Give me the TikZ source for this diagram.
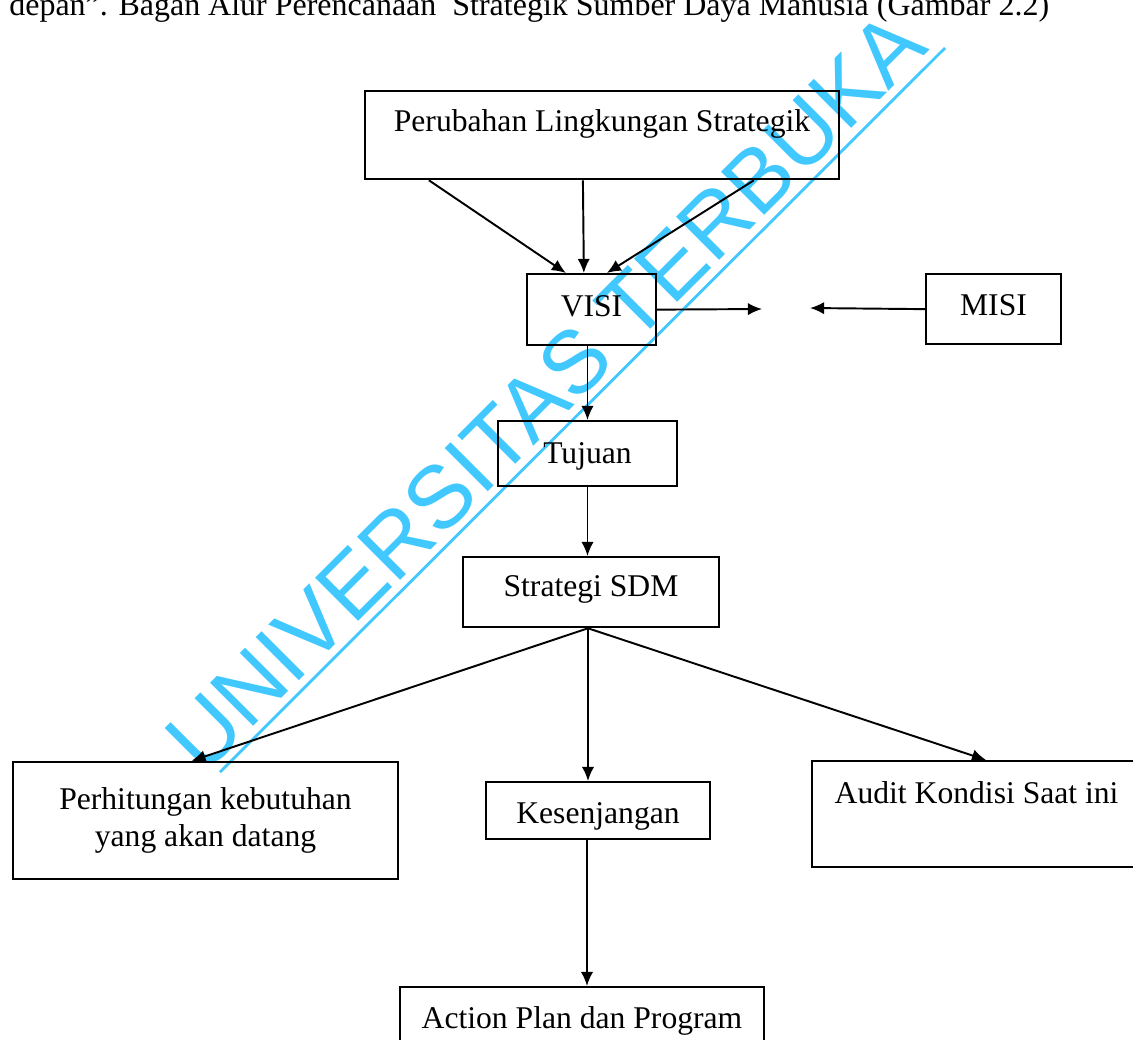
\documentclass[tikz,border=0pt]{standalone}
\usepackage{fontspec}
\setmainfont{Liberation Serif}
\newfontfamily\wmfont{Liberation Sans}
\usepackage{tikz}
\usetikzlibrary{arrows.meta, positioning, calc}
\definecolor{utcyan}{RGB}{64,200,255}

\begin{document}
\begin{tikzpicture}[
    x=0.02cm, y=-0.02cm,
    box/.style={draw, line width=1.3pt, inner sep=0pt, align=center,
        font=\fontsize{18}{21}\selectfont},
    arr/.style={-{Latex[length=8pt,width=7pt]}, line width=1.1pt}
]
    \useasboundingbox (0,0) rectangle (1133,1039);

    % watermark behind the chart
    \node[utcyan, rotate=45, anchor=base, inner sep=0pt,
        font=\wmfont\fontsize{50.5}{60}\selectfont] (wm) at (567,413) {UNIVERSITAS TERBUKA};
    \draw[utcyan, line width=1.6pt] (220,772) -- (945,48);

    \node[anchor=base west, inner sep=0pt, font=\fontsize{18.2}{21}\selectfont] (head) at (9,15)
        {depan''. Bagan Alur Perencanaan\ \ Strategik Sumber Daya Manusia (Gambar 2.2)};

    \node[box, anchor=north, minimum width=9.48cm, text height=0.8cm, text depth=0.96cm] (lingkungan) at (602,90) {Perubahan Lingkungan Strategik};
    \node[box, anchor=north, minimum width=2.58cm, text height=0.84cm, text depth=0.58cm] (visi) at (591.5,273) {VISI};
    \node[box, anchor=north, minimum width=2.7cm, text height=0.82cm, text depth=0.58cm] (misi) at (993.5,273) {MISI};
    \node[box, anchor=north, minimum width=3.58cm, text height=0.84cm, text depth=0.46cm] (tujuan) at (587.5,420) {Tujuan};
    \node[box, anchor=north, minimum width=5.12cm, text height=0.78cm, text depth=0.62cm] (strategi) at (591,556) {Strategi SDM};
    \node[box, minimum width=7.7cm, minimum height=2.34cm] (hitung) at (205.5,820.5) {Perhitungan kebutuhan\\yang akan datang};
    \node[box, anchor=north, minimum width=4.48cm, text height=0.82cm, text depth=0.32cm] (gap) at (598,781) {Kesenjangan};
    \node[box, anchor=north west, minimum width=6.58cm, text height=0.84cm, text depth=1.28cm] (audit) at (811,760) {Audit Kondisi Saat ini};
    \node[box, anchor=north, minimum width=7.28cm, text height=0.82cm, text depth=0.7cm] (aksi) at (582,986) {Action Plan dan Program};

    \coordinate (kanan) at (762,309);
    \coordinate (kiri) at (810,308);

    % connectors
    \draw[arr] ($(lingkungan.south west)+(65,0)$) -- ($(visi.north west)+(40,0)$);
    \draw[arr] ($(lingkungan.south west)+(219,0)$) -- ($(visi.north west)+(58,0)$);
    \draw[arr] ($(lingkungan.south west)+(390,0)$) -- ($(visi.north west)+(81,0)$);
    \draw[arr] (visi.east) -- (kanan);
    \draw[arr] (misi.west) -- (kiri);
    \draw[arr] (tujuan.north |- visi.south) -- (tujuan.north);
    \draw[arr] (tujuan.south) -- (tujuan.south |- strategi.north);
    \draw[arr] ($(strategi.south)+(-3,0)$) -- ($(hitung.north)+(-14,0)$);
    \draw[arr] ($(strategi.south)+(-3,0)$) -- ($(gap.north)+(-10,0)$);
    \draw[arr] ($(strategi.south)+(-3,0)$) -- ($(audit.north west)+(175,0)$);
    \draw[arr] ($(gap.south)+(-11,0)$) -- ($(aksi.north)+(5,0)$);
\end{tikzpicture}
\end{document}
